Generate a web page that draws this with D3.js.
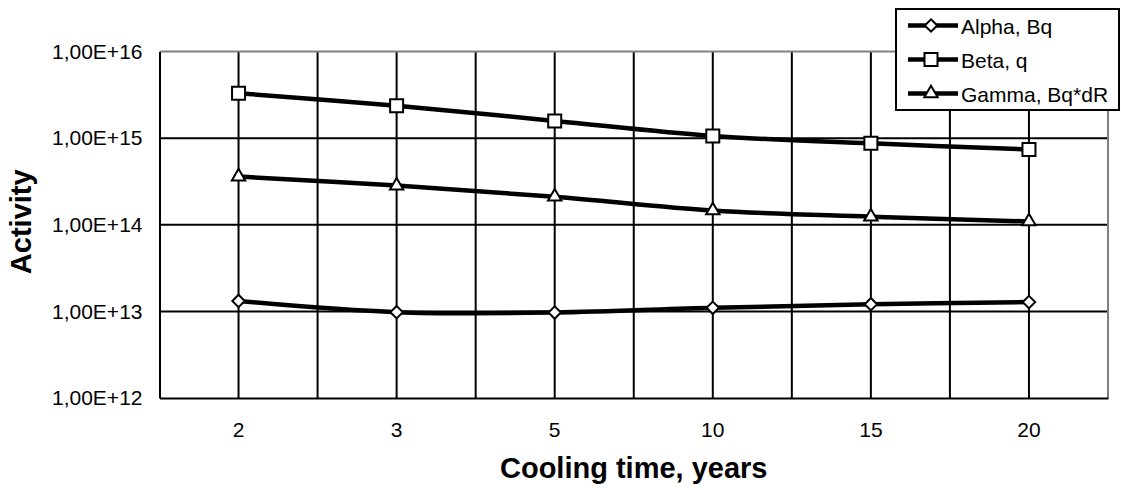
<!DOCTYPE html>
<html>
<head>
<meta charset="utf-8">
<script src="https://cdn.jsdelivr.net/npm/d3@7"></script>
<style>
  html, body { margin: 0; padding: 0; background: #fff; }
  svg { display: block; font-family: "Liberation Sans", Arial, sans-serif; }
</style>
</head>
<body>
<svg id="chart" width="1121" height="490"></svg>
<script>
// ---- data ----
const categories = ["2", "3", "5", "10", "15", "20"];
const alphaValues = [1.32e13, 9.8e12, 9.7e12, 1.1e13, 1.21e13, 1.28e13];
const betaValues  = [3.3e15, 2.37e15, 1.58e15, 1.06e15, 8.7e14, 7.4e14];
const gammaValues = [3.6e14, 2.83e14, 2.11e14, 1.46e14, 1.24e14, 1.09e14];
const seriesNames = ["Alpha, Bq", "Beta, q", "Gamma, Bq*dR"];
const seriesMarkers = ["diamond", "square", "triangle"];
const yTicks = [1e12, 1e13, 1e14, 1e15, 1e16];
const xTitle = "Cooling time, years";
const yTitle = "Activity";

const series = [
  { name: seriesNames[0], values: alphaValues, marker: seriesMarkers[0] },
  { name: seriesNames[1], values: betaValues,  marker: seriesMarkers[1] },
  { name: seriesNames[2], values: gammaValues, marker: seriesMarkers[2] }
];

// ---- layout ----
const plot = { left: 159.5, right: 1108, top: 51.5, bottom: 398 };
const svg = d3.select("#chart");

const x = d3.scaleBand().domain(categories).range([plot.left, plot.right]).padding(0);
const y = d3.scaleLog().domain([1e12, 1e16]).range([plot.bottom, plot.top]);
const cx = d => x(d) + x.bandwidth() / 2;

const fmt = d => d3.format(".2e")(d).replace(".", ",").replace("e", "E");

// gridlines: horizontal
svg.append("g").selectAll("line")
  .data(yTicks.filter(t => t > 1e12 && t < 1e16))
  .join("line")
  .attr("x1", plot.left).attr("x2", plot.right)
  .attr("y1", d => y(d)).attr("y2", d => y(d))
  .attr("stroke", "#000").attr("stroke-width", 2);

// gridlines: vertical (category centers and boundaries)
const vlines = [];
categories.forEach((c, i) => {
  if (i > 0) vlines.push(x(c));
  vlines.push(cx(c));
});
svg.append("g").selectAll("line")
  .data(vlines)
  .join("line")
  .attr("x1", d => d).attr("x2", d => d)
  .attr("y1", plot.top).attr("y2", plot.bottom)
  .attr("stroke", "#000").attr("stroke-width", 2);

// plot border top/right gray
svg.append("path")
  .attr("d", `M${plot.left},${plot.top}H${plot.right}V${plot.bottom}`)
  .attr("fill", "none").attr("stroke", "#808080").attr("stroke-width", 2);

// axes
const yAxis = d3.axisLeft(y).tickValues(yTicks).tickFormat(fmt).tickSize(0).tickPadding(17);
const gy = svg.append("g").attr("transform", `translate(${plot.left},0)`).call(yAxis);
gy.select(".domain").attr("stroke", "#000").attr("stroke-width", 2);
gy.selectAll("text").attr("font-size", 21).attr("font-family", "Liberation Sans, Arial, sans-serif").attr("fill", "#000");

const xAxis = d3.axisBottom(x).tickSize(0).tickPadding(24);
const gx = svg.append("g").attr("transform", `translate(0,${plot.bottom})`).call(xAxis);
gx.select(".domain").attr("stroke", "#000").attr("stroke-width", 2);
gx.selectAll("text").attr("font-size", 21).attr("font-family", "Liberation Sans, Arial, sans-serif").attr("fill", "#000");

// axis titles
svg.append("text")
  .attr("x", (plot.left + plot.right) / 2).attr("y", 478)
  .attr("text-anchor", "middle").attr("font-weight", "bold").attr("font-size", 29)
  .text(xTitle);
svg.append("text")
  .attr("transform", `translate(31,${(plot.top + plot.bottom) / 2 - 3}) rotate(-90)`)
  .attr("text-anchor", "middle").attr("font-weight", "bold").attr("font-size", 29)
  .text(yTitle);

// markers
const markerPath = (type, size) => {
  if (type === "diamond") return d3.symbol(d3.symbolDiamond2, size * size * 0.5)();
  if (type === "square") return d3.symbol(d3.symbolSquare, size * size)();
  return d3.symbol(d3.symbolTriangle2, size * size * 0.5)();
};
const markerSize = { diamond: 14, square: 13, triangle: 16 };

const line = d3.line().x((d, i) => cx(categories[i])).y(d => y(d)).curve(d3.curveCardinal.tension(0));

series.forEach(s => {
  svg.append("path")
    .attr("d", line(s.values))
    .attr("fill", "none").attr("stroke", "#000").attr("stroke-width", 4.5)
    .attr("stroke-linejoin", "round");
  svg.append("g").selectAll("path")
    .data(s.values)
    .join("path")
    .attr("transform", (d, i) => `translate(${cx(categories[i])},${y(d)})`)
    .attr("d", markerPath(s.marker, markerSize[s.marker]))
    .attr("fill", "#fff").attr("stroke", "#000").attr("stroke-width", 2);
});

// legend
const legend = svg.append("g");
legend.append("rect")
  .attr("x", 896).attr("y", 9).attr("width", 223).attr("height", 101)
  .attr("fill", "#fff").attr("stroke", "#000").attr("stroke-width", 2);
const rows = legend.selectAll("g.row").data(series).join("g")
  .attr("transform", (d, i) => `translate(0,${25.5 + i * 34})`);
rows.append("line").attr("x1", 908).attr("x2", 958).attr("y1", 0).attr("y2", 0)
  .attr("stroke", "#000").attr("stroke-width", 4.5);
rows.append("path")
  .attr("transform", "translate(931,0)")
  .attr("d", d => markerPath(d.marker, markerSize[d.marker]))
  .attr("fill", "#fff").attr("stroke", "#000").attr("stroke-width", 2);
rows.append("text")
  .attr("x", 961).attr("y", 8)
  .attr("font-size", 21).attr("fill", "#000")
  .text(d => d.name);
</script>
</body>
</html>
